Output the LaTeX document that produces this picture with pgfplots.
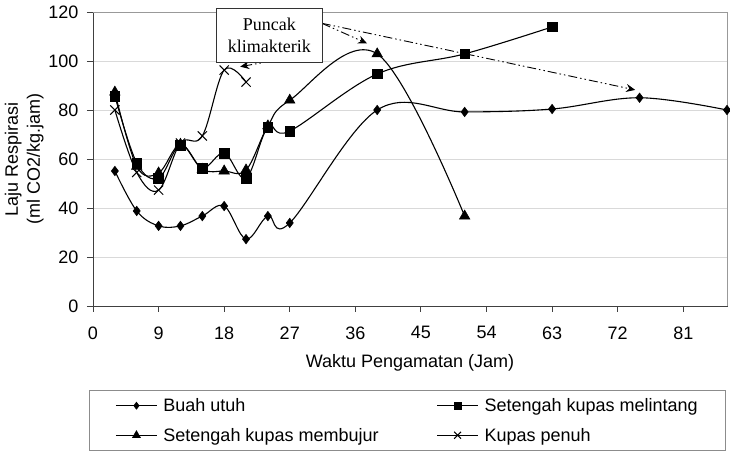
\documentclass[border=0pt]{standalone}
\usepackage{pgfplots}
\pgfplotsset{compat=1.18}
\usepackage{fontspec}
\setmainfont{Liberation Sans}
\newfontfamily\timesfont{Liberation Serif}
\usetikzlibrary{arrows.meta}

\begin{document}
\begin{tikzpicture}
\begin{axis}[
  at={(0pt,0pt)}, anchor=south west,
  scale only axis, width=634pt, height=294pt,
  xmin=0, xmax=87, ymin=0, ymax=120,
  xtick={0,9,...,81}, ytick={0,20,...,120},
  tick align=outside, tick pos=left,
  major tick length=6pt,
  ymajorgrids, grid style={black!15, line width=0.7pt},
  axis line style={black!75, line width=0.9pt},
  tick style={black!75, line width=0.9pt},
  font=\fontsize{18}{22}\selectfont,
  /pgf/number format/assume math mode=true,
  xticklabel shift=11pt,
  yticklabel shift=5pt,
  xlabel={Waktu Pengamatan (Jam)},
  xlabel shift=8pt,
  ylabel={Laju Respirasi\\(ml CO2/kg.jam)},
  ylabel style={align=center},
  ylabel shift=-2pt,
  clip=false,
  every axis plot/.append style={black, line width=1.1pt, smooth, tension=0.6},
  legend columns=2,
  legend cell align=left,
  legend style={
    at={(axis description cs:-0.0063,-0.2857)}, anchor=north west,
    draw=black!45, line width=0.9pt,
    inner xsep=26pt, inner ysep=6pt,
    font=\fontsize{18}{22}\selectfont,
    row sep=11pt,
    /tikz/every even column/.append style={column sep=56pt},
    /tikz/every odd column/.append style={column sep=4pt},
  },
  legend image code/.code={
    \draw[mark repeat=2, mark phase=2, line width=1pt, #1,
          every mark/.append style={scale=0.75}]
      plot coordinates {(0pt,0pt) (20.5pt,0pt) (41pt,0pt)};
  },
]
% Buah utuh
\addplot[mark=diamond*, mark size=4.7pt, mark options={solid, line width=0.6pt}] coordinates {
  (3,55.1) (6,38.8) (9,32.7) (12,32.7) (15,36.7) (18,40.8) (21,27.3)
  (24,36.7) (27,33.9) (39,80.0) (51,79.2) (63,80.4) (75,85.0) (87,80.0)
};
\addlegendentry{Buah utuh}
% Setengah kupas melintang
\addplot[mark=square*, mark size=4.8pt, mark options={solid, line width=0.6pt}] coordinates {
  (3,85.7) (6,58.4) (9,52.2) (12,65.7) (15,56.3) (18,62.4) (21,52.2)
  (24,73.0) (27,71.4) (39,94.7) (51,102.9) (63,113.9)
};
\addlegendentry{Setengah kupas melintang}
% Setengah kupas membujur
\addplot[mark=triangle*, mark size=6pt, mark options={solid, line width=0.6pt}] coordinates {
  (3,87.3) (6,57.0) (9,54.3) (12,66.0) (15,55.8) (18,55.1) (21,55.5)
  (24,73.5) (27,84.0) (39,102.9) (51,36.7)
};
\addlegendentry{Setengah kupas membujur}
% Kupas penuh
\addplot[mark=x, mark size=6.5pt, mark options={solid, line width=1pt}] coordinates {
  (3,80.0) (6,54.5) (9,47.3) (12,66.5) (15,69.4) (18,96.3) (21,91.4)
};
\addlegendentry{Kupas penuh}

% gray top and right frame
\draw[black!40, line width=0.9pt] (rel axis cs:0,1) -- (rel axis cs:1,1) -- (rel axis cs:1,0);

% annotation arrows
\begin{scope}[line width=0.9pt,
  dash pattern=on 9pt off 3pt on 1.5pt off 3pt on 1.5pt off 3pt,
  -{Stealth[length=9pt, width=8pt, inset=3pt]}]
  \draw (27.5,101.5) -- (20.2,97.7);
  \draw (31.4,115.4) -- (37.6,107.2);
  \draw (31.4,115.4) -- (74.4,88.2);
\end{scope}
\node[draw=black!80, line width=0.9pt, fill=white, align=center,
  font=\timesfont\fontsize{18}{22}\selectfont,
  minimum width=106pt, minimum height=54pt, inner sep=2pt]
  at (24.2,110.6) {Puncak\\klimakterik};
\end{axis}
\pgfresetboundingbox
\useasboundingbox (-93pt,-148pt) rectangle (637pt,306pt);
\end{tikzpicture}
\end{document}
